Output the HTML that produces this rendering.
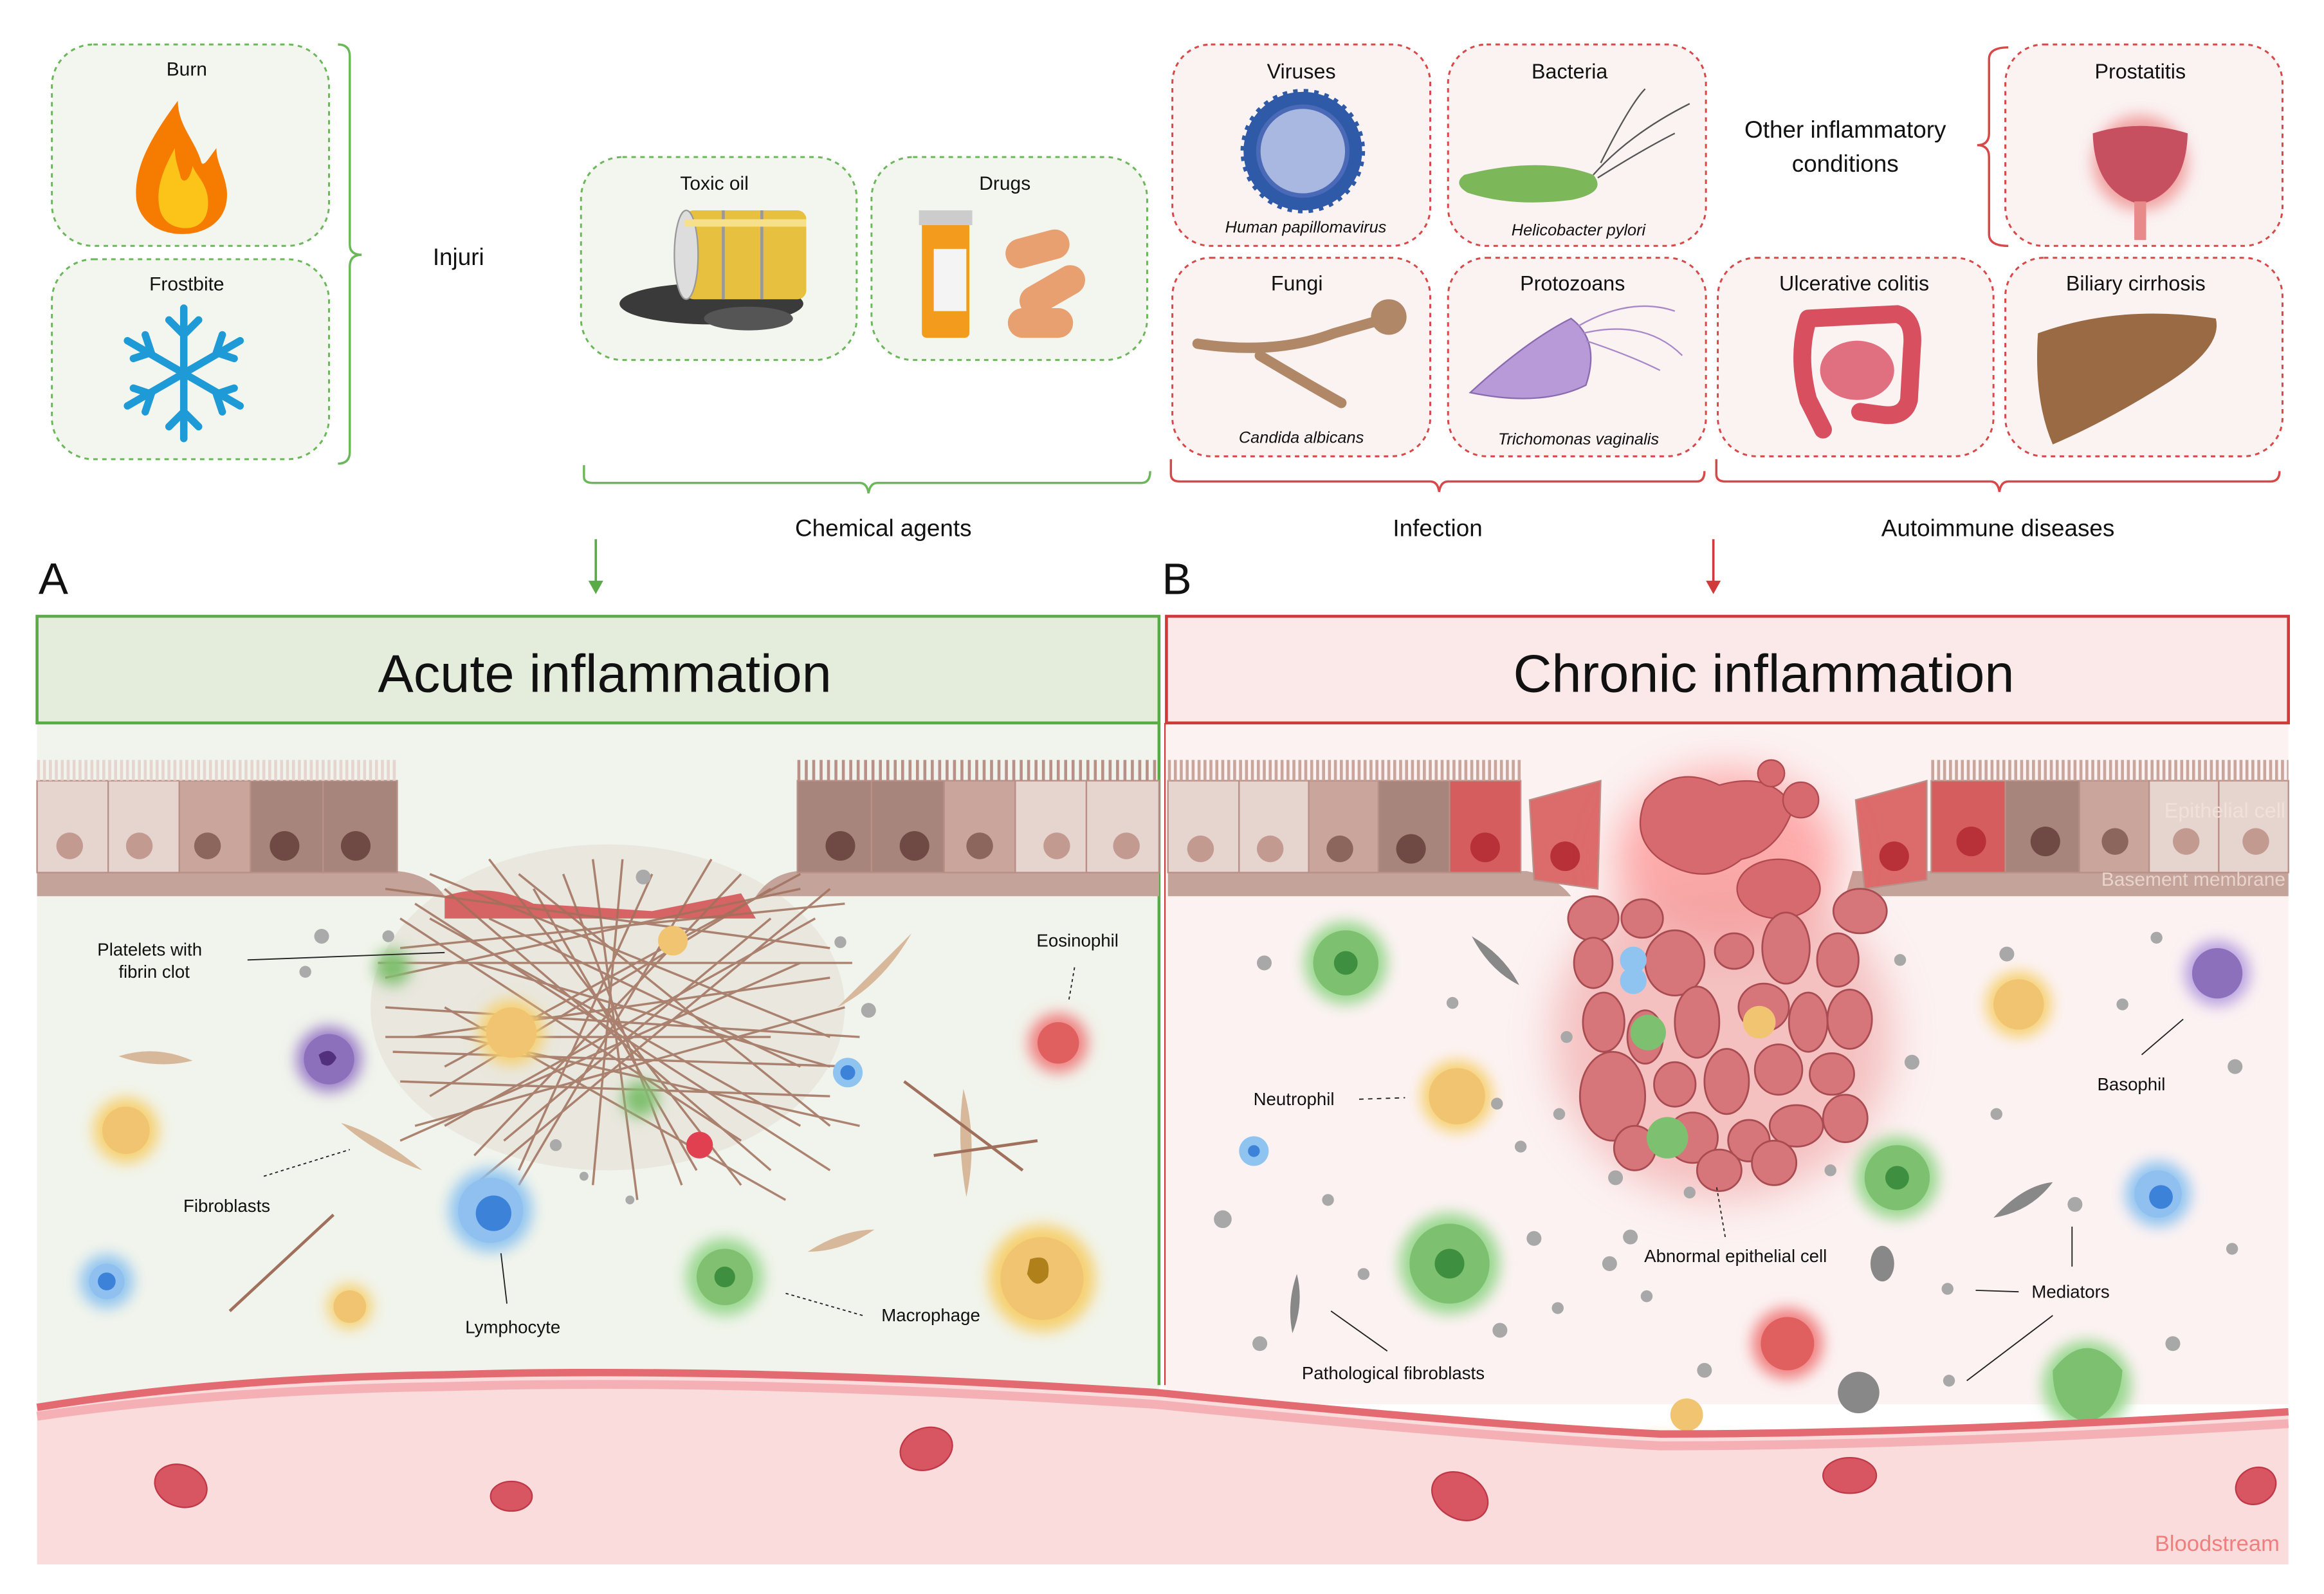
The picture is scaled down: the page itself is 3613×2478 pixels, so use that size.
<!DOCTYPE html>
<html><head><meta charset="utf-8"><style>
html,body{margin:0;padding:0;background:#fff}
svg{display:block}
text{font-family:"Liberation Sans",sans-serif;fill:#111}
</style></head><body>
<svg width="3613" height="2478" viewBox="0 0 1568 1076" preserveAspectRatio="none" xmlns="http://www.w3.org/2000/svg">
<defs>
<filter id="g" x="-50%" y="-50%" width="200%" height="200%"><feGaussianBlur stdDeviation="5"/></filter>
<filter id="g2" x="-50%" y="-50%" width="200%" height="200%"><feGaussianBlur stdDeviation="14"/></filter>
</defs>
<rect width="1568" height="1076" fill="#fff"/>

<g fill="#f3f6ef" stroke="#6bb85a" stroke-width="1.3" stroke-dasharray="3,3">
<rect x="35" y="30" width="187" height="136" rx="28"/>
<rect x="35" y="175" width="187" height="135" rx="28"/>
<rect x="392" y="106" width="186" height="137" rx="28"/>
<rect x="588" y="106" width="186" height="137" rx="28"/>
</g>
<g font-size="13" text-anchor="middle">
<text x="126" y="51">Burn</text><text x="126" y="196">Frostbite</text>
<text x="482" y="128">Toxic oil</text><text x="678" y="128">Drugs</text>
</g>
<path d="M120 68 C100 95 90 115 92 135 C95 152 110 158 123 158 C140 158 155 148 153 128 C151 115 146 110 146 100 C140 108 138 112 136 110 C132 95 120 85 120 68Z" fill="#f57c00"/>
<path d="M118 100 C108 118 105 130 108 142 C111 152 120 154 125 154 C136 154 142 146 140 132 C138 122 132 118 130 112 C128 122 124 124 122 120 C120 112 118 108 118 100Z" fill="#fcc419"/>
<g stroke="#1e9bd7" stroke-width="5" fill="none" stroke-linecap="round">
<line x1="124" y1="208" x2="124" y2="296"/><line x1="86" y1="230" x2="162" y2="274"/><line x1="86" y1="274" x2="162" y2="230"/>
<path d="M114 216 L124 226 L134 216 M114 288 L124 278 L134 288 M90 242 L102 238 L98 226 M158 262 L146 266 L150 278 M90 262 L102 266 L98 278 M158 242 L146 238 L150 226"/>
</g>
<ellipse cx="480" cy="205" rx="62" ry="14" fill="#3a3a3a"/><ellipse cx="505" cy="215" rx="30" ry="8" fill="#555"/>
<rect x="462" y="142" width="82" height="60" rx="6" fill="#e8c040"/>
<ellipse cx="463" cy="172" rx="8" ry="30" fill="#ddd" stroke="#999"/>
<line x1="488" y1="142" x2="488" y2="202" stroke="#999" stroke-width="2"/><line x1="514" y1="142" x2="514" y2="202" stroke="#999" stroke-width="2"/>
<rect x="462" y="148" width="82" height="5" fill="#f6e08a"/>
<rect x="622" y="148" width="32" height="80" rx="3" fill="#f39b1c"/><rect x="620" y="142" width="36" height="10" fill="#ccc"/><rect x="630" y="168" width="22" height="42" fill="#f4f4f4"/>
<rect x="678" y="158" width="44" height="20" rx="10" fill="#e8a070" transform="rotate(-15 700 168)"/>
<rect x="686" y="186" width="48" height="20" rx="10" fill="#e8a070" transform="rotate(-30 710 196)"/>
<rect x="680" y="208" width="44" height="20" rx="10" fill="#e8a070"/>
<path d="M228 30 Q236 30 236 38 L236 165 Q236 172 244 172 Q236 172 236 180 L236 305 Q236 313 228 313" fill="none" stroke="#6bb85a" stroke-width="1.5"/>
<text x="292" y="179" font-size="16">Injuri</text>
<path d="M394 314 L394 322 Q394 326 400 326 L580 326 Q585 326 586 333 Q587 326 592 326 L770 326 Q776 326 776 318" fill="none" stroke="#6bb85a" stroke-width="1.5"/>
<path d="M790 310 L790 320 Q790 325 796 325 L965 325 Q970 325 971 332 Q972 325 977 325 L1145 325 Q1150 325 1150 318" fill="none" stroke="#d84848" stroke-width="1.5"/>
<path d="M1158 310 L1158 320 Q1158 325 1164 325 L1343 325 Q1348 325 1349 332 Q1350 325 1355 325 L1532 325 Q1538 325 1538 318" fill="none" stroke="#d84848" stroke-width="1.5"/>
<g font-size="16" text-anchor="middle"><text x="596" y="362">Chemical agents</text><text x="970" y="362">Infection</text><text x="1348" y="362">Autoimmune diseases</text>
<text x="1245" y="93">Other inflammatory</text><text x="1245" y="116">conditions</text></g>
<path d="M1355 32 Q1342 32 1342 40 L1342 90 Q1342 98 1334 98 Q1342 98 1342 106 L1342 158 Q1342 166 1355 166" fill="none" stroke="#d84848" stroke-width="1.5"/>

<g fill="#fbf2f2" stroke="#d84848" stroke-width="1.3" stroke-dasharray="3,3">
<rect x="791" y="30" width="174" height="136" rx="26"/><rect x="977" y="30" width="174" height="136" rx="26"/>
<rect x="791" y="174" width="174" height="134" rx="26"/><rect x="977" y="174" width="174" height="134" rx="26"/>
<rect x="1159" y="174" width="186" height="134" rx="26"/><rect x="1353" y="174" width="187" height="134" rx="26"/>
<rect x="1353" y="30" width="187" height="136" rx="26"/>
</g>
<g font-size="14" text-anchor="middle">
<text x="878" y="53">Viruses</text><text x="1059" y="53">Bacteria</text><text x="875" y="196">Fungi</text><text x="1061" y="196">Protozoans</text>
<text x="1251" y="196">Ulcerative colitis</text><text x="1441" y="196">Biliary cirrhosis</text><text x="1444" y="53">Prostatitis</text>
</g>
<g font-size="11" text-anchor="middle" font-style="italic">
<text x="881" y="157">Human papillomavirus</text><text x="1065" y="159">Helicobacter pylori</text>
<text x="878" y="299">Candida albicans</text><text x="1065" y="300">Trichomonas vaginalis</text></g>
<circle cx="879" cy="102" r="40" fill="#2f5aa8" stroke="#2f5aa8" stroke-width="4" stroke-dasharray="3,4"/><circle cx="879" cy="102" r="30" fill="#a8b8e0" stroke="#4a6ab8" stroke-width="3"/>
<path d="M988 118 Q1040 105 1075 118 Q1085 130 1060 135 Q1020 140 990 130 Q980 124 988 118Z" fill="#7cb85a"/>
<path d="M1075 118 Q1100 90 1140 70 M1078 120 Q1110 100 1130 90 M1080 110 Q1100 70 1110 60" stroke="#555" fill="none"/>
<path d="M808 232 Q860 240 900 225 L935 215 M850 240 Q880 258 905 272" stroke="#b08868" stroke-width="7" fill="none" stroke-linecap="round"/>
<circle cx="937" cy="214" r="12" fill="#b08868"/>
<path d="M992 265 Q1030 230 1060 215 Q1080 230 1070 260 Q1040 275 992 265Z" fill="#b89ad8" stroke="#8a6ab0"/>
<path d="M1065 220 Q1100 200 1130 210 M1068 225 Q1110 215 1135 240 M1070 230 Q1100 240 1120 250" stroke="#a888c8" fill="none"/>
<path d="M1220 215 L1280 212 Q1292 215 1290 235 L1288 270 Q1285 282 1270 280 L1255 278 M1220 215 Q1212 240 1220 270 L1230 290" stroke="#d85060" stroke-width="12" fill="none" stroke-linecap="round"/>
<ellipse cx="1253" cy="250" rx="25" ry="20" fill="#e07080"/>
<path d="M1375 225 Q1430 205 1495 215 Q1500 235 1460 260 Q1420 285 1385 300 Q1372 270 1375 225Z" fill="#9a6a45"/>
<circle cx="1444" cy="110" r="32" fill="#f1a0a0" filter="url(#g)"/>
<path d="M1412 90 Q1444 80 1476 90 Q1475 130 1444 138 Q1413 130 1412 90Z" fill="#c65060"/>
<rect x="1440" y="136" width="8" height="26" fill="#e88a8a"/>

<text x="26" y="401" font-size="30">A</text><text x="784" y="401" font-size="30">B</text>
<line x1="402" y1="364" x2="402" y2="394" stroke="#5aaa46" stroke-width="1.6"/><path d="M397 392 L407 392 L402 401Z" fill="#5aaa46"/>
<line x1="1156" y1="364" x2="1156" y2="394" stroke="#d03a3a" stroke-width="1.6"/><path d="M1151 392 L1161 392 L1156 401Z" fill="#d03a3a"/>

<rect x="25" y="488" width="757" height="460" fill="#f1f4ec"/>
<rect x="787" y="488" width="757" height="460" fill="#fcf2f2"/>
<rect x="25" y="416" width="757" height="72" fill="#e4ecdc" stroke="#5aaa46" stroke-width="2"/>
<rect x="787" y="416" width="757" height="72" fill="#fbe9e9" stroke="#d03a3a" stroke-width="2"/>
<line x1="782" y1="488" x2="782" y2="935" stroke="#5aaa46" stroke-width="2"/>
<line x1="786" y1="488" x2="786" y2="935" stroke="#d03a3a" stroke-width="1"/>
<text x="408" y="467" font-size="36" text-anchor="middle">Acute inflammation</text>
<text x="1190" y="467" font-size="36" text-anchor="middle">Chronic inflammation</text>

<path d="M25 588 L268 588 Q290 590 300 605 L25 605Z" fill="#c4a39a"/>
<path d="M538 588 L782 588 L782 605 L510 605 Q520 590 538 588Z" fill="#c4a39a"/>
<path d="M788 588 L1030 588 Q1050 592 1060 605 L788 605Z" fill="#c4a39a"/>
<path d="M1250 588 L1544 588 L1544 605 L1245 605 Z" fill="#c4a39a"/>
<g stroke="#b89088" stroke-width="1">
<rect x="25" y="527" width="48" height="62" fill="#e6d4cf"/><rect x="73" y="527" width="48" height="62" fill="#e6d4cf"/>
<rect x="121" y="527" width="48" height="62" fill="#c9a59c"/><rect x="169" y="527" width="49" height="62" fill="#a8857c"/><rect x="218" y="527" width="50" height="62" fill="#a8857c"/>
<rect x="538" y="527" width="50" height="62" fill="#a8857c"/><rect x="588" y="527" width="49" height="62" fill="#a8857c"/>
<rect x="637" y="527" width="48" height="62" fill="#c9a59c"/><rect x="685" y="527" width="48" height="62" fill="#e6d4cf"/><rect x="733" y="527" width="49" height="62" fill="#e6d4cf"/>
<rect x="788" y="527" width="48" height="62" fill="#e6d4cf"/><rect x="836" y="527" width="47" height="62" fill="#e6d4cf"/>
<rect x="883" y="527" width="47" height="62" fill="#c9a59c"/><rect x="930" y="527" width="48" height="62" fill="#a8857c"/><rect x="978" y="527" width="48" height="62" fill="#d55d5d"/>
<path d="M1032 540 L1080 527 L1078 600 L1035 594Z" fill="#dc6b6b"/>
<path d="M1252 540 L1300 527 L1300 594 L1258 600Z" fill="#dc6b6b"/>
<rect x="1303" y="527" width="50" height="62" fill="#d55d5d"/><rect x="1353" y="527" width="50" height="62" fill="#a8857c"/>
<rect x="1403" y="527" width="47" height="62" fill="#c9a59c"/><rect x="1450" y="527" width="47" height="62" fill="#e6d4cf"/><rect x="1497" y="527" width="47" height="62" fill="#e6d4cf"/>
</g>
<g stroke-width="3">
<line x1="25" y1="520" x2="268" y2="520" stroke="#e6d4cf" stroke-width="14" stroke-dasharray="2,2"/>
<line x1="538" y1="520" x2="782" y2="520" stroke="#b89088" stroke-width="14" stroke-dasharray="2,3"/>
<line x1="788" y1="520" x2="1026" y2="520" stroke="#c9a59c" stroke-width="14" stroke-dasharray="2,2"/>
<line x1="1303" y1="520" x2="1544" y2="520" stroke="#c9a59c" stroke-width="14" stroke-dasharray="2,2"/>
</g>
<g fill="#c29a90">
<circle cx="47" cy="571" r="9"/><circle cx="94" cy="571" r="9"/><circle cx="713" cy="571" r="9"/><circle cx="760" cy="571" r="9"/>
<circle cx="810" cy="573" r="9"/><circle cx="857" cy="573" r="9"/><circle cx="1475" cy="568" r="9"/><circle cx="1522" cy="568" r="9"/></g>
<g fill="#8c655c"><circle cx="140" cy="571" r="9"/><circle cx="661" cy="571" r="9"/><circle cx="904" cy="573" r="9"/><circle cx="1427" cy="568" r="9"/></g>
<g fill="#6f4a44"><circle cx="192" cy="571" r="10"/><circle cx="240" cy="571" r="10"/><circle cx="567" cy="571" r="10"/><circle cx="617" cy="571" r="10"/><circle cx="952" cy="573" r="10"/><circle cx="1380" cy="568" r="10"/></g>
<g fill="#b83038"><circle cx="1002" cy="572" r="10"/><circle cx="1056" cy="578" r="10"/><circle cx="1278" cy="578" r="10"/><circle cx="1330" cy="568" r="10"/></g>
<text x="1542" y="552" font-size="14" text-anchor="end" style="fill:#f0e0dc">Epithelial cell</text>
<text x="1542" y="598" font-size="13" text-anchor="end" style="fill:#e8d3cd">Basement membrane</text>

<ellipse cx="410" cy="680" rx="160" ry="110" fill="#b98a78" opacity="0.12"/>
<path d="M300 605 Q330 595 360 610 L440 615 L500 603 L510 620 L300 620Z" fill="#d0383c" opacity="0.75"/>
<g stroke="#a0705c" stroke-width="1.5" opacity="0.85">
<path d="M260 600 L560 640 M270 640 L570 610 M280 700 L560 660 M290 620 L540 760 M300 760 L550 620 M330 580 L500 800 M350 800 L480 580 M260 680 L580 700 M270 730 L560 740 M300 600 L520 790 M420 580 L400 800 M380 590 L460 800 M260 660 L540 600 M280 760 L570 680 M310 700 L580 760"/>
<path d="M290 590 L560 700 M300 720 L540 590 M320 650 L560 720 M340 770 L520 620 M360 600 L470 790 M440 590 L350 790 M270 620 L500 770 M500 590 L320 780"/>
<path d="M255 650 L575 650 M265 710 L575 720 M280 610 L560 790 M320 800 L560 600 M400 580 L430 810 M300 680 L530 810 M270 770 L540 650 M350 590 L560 760 M290 740 L520 600 M330 620 L540 720 M260 700 L520 700"/>
</g>
<g>
<circle cx="222" cy="715" r="22" fill="#9a7cc8" filter="url(#g)"/><circle cx="222" cy="715" r="17" fill="#8c70bc"/><path d="M215 712 q8 -6 12 2 q-4 8 -10 4" fill="#52307e"/>
<circle cx="85" cy="763" r="22" fill="#f6d070" filter="url(#g)"/><circle cx="85" cy="763" r="16" fill="#f0c470"/>
<circle cx="345" cy="697" r="22" fill="#f6d070" filter="url(#g)"/><circle cx="345" cy="697" r="17" fill="#f0c470"/>
<circle cx="236" cy="882" r="15" fill="#f6d070" filter="url(#g)"/><circle cx="236" cy="882" r="11" fill="#f0c470"/>
<circle cx="703" cy="863" r="36" fill="#f6d070" filter="url(#g)"/><circle cx="703" cy="863" r="28" fill="#f0c470"/><path d="M695 850 q15 -5 12 12 q-8 10 -14 -2" fill="#b0801a"/>
<circle cx="331" cy="817" r="28" fill="#8fc4f0" filter="url(#g)"/><circle cx="331" cy="817" r="22" fill="#90c0f0"/><circle cx="333" cy="819" r="12" fill="#3c82d8"/>
<circle cx="72" cy="865" r="18" fill="#8fc4f0" filter="url(#g)"/><circle cx="72" cy="865" r="12" fill="#90c0f0"/><circle cx="72" cy="865" r="6" fill="#3c82d8"/>
<circle cx="572" cy="724" r="10" fill="#8fc4f0"/><circle cx="572" cy="724" r="5" fill="#3c82d8"/>
<circle cx="714" cy="704" r="20" fill="#f08080" filter="url(#g)"/><circle cx="714" cy="704" r="14" fill="#e06060"/>
<circle cx="472" cy="773" r="9" fill="#e04050"/>
<circle cx="489" cy="862" r="26" fill="#9ad890" filter="url(#g)"/><circle cx="489" cy="862" r="19" fill="#80c070"/><circle cx="489" cy="862" r="7" fill="#3e9040"/>
<circle cx="265" cy="653" r="12" fill="#80c070" filter="url(#g)"/><circle cx="432" cy="742" r="12" fill="#80c070" filter="url(#g)"/>
<circle cx="454" cy="635" r="10" fill="#f0c470"/>
</g>
<g fill="#d8b89a">
<path d="M80 713 Q105 705 130 716 Q105 722 80 713Z"/><path d="M230 758 Q255 765 285 790 Q255 780 230 758Z"/>
<path d="M565 680 Q590 655 615 630 Q595 665 565 680Z"/><path d="M545 845 Q568 830 590 830 Q568 845 545 845Z"/>
<path d="M650 735 Q660 770 652 808 Q645 770 650 735Z"/>
</g>
<g stroke="#a0705c" stroke-width="2" fill="none"><path d="M155 885 L225 820 M610 730 L690 790 M630 780 L700 770"/></g>
<g fill="#aaa"><circle cx="217" cy="632" r="5"/><circle cx="262" cy="632" r="4"/><circle cx="206" cy="656" r="4"/><circle cx="434" cy="592" r="5"/><circle cx="586" cy="682" r="5"/><circle cx="567" cy="636" r="4"/><circle cx="375" cy="773" r="4"/><circle cx="394" cy="794" r="3"/><circle cx="425" cy="810" r="3"/></g>
<g font-size="12" text-anchor="middle">
<text x="101" y="645">Platelets with</text><text x="104" y="660">fibrin clot</text>
<text x="727" y="639">Eosinophil</text><text x="153" y="818">Fibroblasts</text>
<text x="346" y="900">Lymphocyte</text><text x="628" y="892">Macrophage</text></g>
<g stroke="#222" stroke-width="0.8" fill="none">
<line x1="167" y1="648" x2="300" y2="643"/><line x1="725" y1="653" x2="721" y2="676" stroke-dasharray="2,2"/>
<line x1="178" y1="794" x2="236" y2="776" stroke-dasharray="2,2"/><line x1="342" y1="880" x2="338" y2="846"/>
<line x1="582" y1="888" x2="530" y2="873" stroke-dasharray="2,2"/></g>

<ellipse cx="1165" cy="580" rx="75" ry="60" fill="#ff7070" opacity="0.55" filter="url(#g2)"/>
<ellipse cx="1162" cy="700" rx="115" ry="110" fill="#f0a0a0" opacity="0.6" filter="url(#g2)"/>
<g fill="#d76a6e" stroke="#b04a50" stroke-width="1">
<path d="M1110 540 Q1130 515 1160 530 Q1195 520 1210 545 Q1200 575 1175 580 Q1150 600 1120 580 Q1100 565 1110 540Z"/>
<ellipse cx="1200" cy="600" rx="28" ry="20"/><circle cx="1195" cy="522" r="9"/><circle cx="1215" cy="540" r="12"/>
</g>
<g fill="#d7767a" stroke="#a84c52" stroke-width="1.2">
<ellipse cx="1075" cy="620" rx="17" ry="15"/><ellipse cx="1108" cy="620" rx="14" ry="13"/><ellipse cx="1255" cy="615" rx="18" ry="15"/>
<ellipse cx="1075" cy="650" rx="13" ry="17"/><ellipse cx="1130" cy="650" rx="20" ry="22"/><ellipse cx="1170" cy="642" rx="13" ry="12"/><ellipse cx="1205" cy="640" rx="16" ry="24"/><ellipse cx="1240" cy="648" rx="14" ry="18"/>
<ellipse cx="1082" cy="690" rx="14" ry="20"/><ellipse cx="1110" cy="700" rx="12" ry="18"/><ellipse cx="1145" cy="690" rx="15" ry="24"/><ellipse cx="1190" cy="680" rx="17" ry="16"/><ellipse cx="1220" cy="690" rx="13" ry="20"/><ellipse cx="1248" cy="688" rx="15" ry="20"/>
<ellipse cx="1088" cy="740" rx="22" ry="30"/><ellipse cx="1130" cy="732" rx="14" ry="15"/><ellipse cx="1165" cy="730" rx="15" ry="22"/><ellipse cx="1200" cy="722" rx="16" ry="17"/><ellipse cx="1236" cy="725" rx="15" ry="14"/>
<ellipse cx="1103" cy="775" rx="14" ry="15"/><ellipse cx="1142" cy="768" rx="17" ry="17"/><ellipse cx="1180" cy="770" rx="14" ry="14"/><ellipse cx="1212" cy="760" rx="18" ry="14"/><ellipse cx="1245" cy="755" rx="15" ry="16"/>
<ellipse cx="1160" cy="790" rx="15" ry="14"/><ellipse cx="1197" cy="785" rx="15" ry="15"/>
</g>
<g>
<circle cx="908" cy="650" r="28" fill="#9ad890" filter="url(#g)"/><circle cx="908" cy="650" r="22" fill="#7cc070"/><circle cx="908" cy="650" r="8" fill="#3e9040"/>
<circle cx="978" cy="853" r="34" fill="#9ad890" filter="url(#g)"/><circle cx="978" cy="853" r="27" fill="#7cc070"/><circle cx="978" cy="853" r="10" fill="#3e9040"/>
<circle cx="1280" cy="795" r="28" fill="#9ad890" filter="url(#g)"/><circle cx="1280" cy="795" r="22" fill="#7cc070"/><circle cx="1280" cy="795" r="8" fill="#3e9040"/>
<circle cx="1112" cy="697" r="12" fill="#7cc070"/><circle cx="1125" cy="768" r="14" fill="#7cc070"/>
<circle cx="880" cy="1010" r="24" fill="#9ad890" filter="url(#g)"/><circle cx="880" cy="1010" r="16" fill="#7cc070"/>
<circle cx="983" cy="740" r="24" fill="#f6d070" filter="url(#g)"/><circle cx="983" cy="740" r="19" fill="#f0c470"/>
<circle cx="1362" cy="678" r="22" fill="#f6d070" filter="url(#g)"/><circle cx="1362" cy="678" r="17" fill="#f0c470"/>
<circle cx="1187" cy="690" r="11" fill="#f0c470"/>
<circle cx="1496" cy="657" r="22" fill="#b8a0e0" filter="url(#g)"/><circle cx="1496" cy="657" r="17" fill="#8c70bc"/>
<circle cx="1456" cy="806" r="22" fill="#8fc4f0" filter="url(#g)"/><circle cx="1456" cy="806" r="16" fill="#90c0f0"/><circle cx="1458" cy="808" r="8" fill="#3c82d8"/>
<circle cx="846" cy="777" r="10" fill="#8fc4f0"/><circle cx="846" cy="777" r="4" fill="#3c82d8"/>
<circle cx="1102" cy="648" r="9" fill="#8fc4f0"/><circle cx="1102" cy="662" r="9" fill="#8fc4f0"/>
<circle cx="1206" cy="907" r="24" fill="#f08080" filter="url(#g)"/><circle cx="1206" cy="907" r="18" fill="#e06060"/>
<circle cx="1120" cy="1000" r="30" fill="#f6d070" filter="url(#g)"/><circle cx="1120" cy="1000" r="22" fill="#f0c470"/><circle cx="1138" cy="955" r="11" fill="#f0c470"/>
<circle cx="1408" cy="935" r="30" fill="#9ad890" filter="url(#g)"/><path d="M1385 925 Q1408 895 1432 925 Q1430 955 1408 960 Q1385 955 1385 925Z" fill="#7cc070"/><ellipse cx="1408" cy="985" rx="10" ry="12" fill="#7cc070"/>
<circle cx="1254" cy="940" r="14" fill="#888"/><ellipse cx="1270" cy="853" rx="8" ry="12" fill="#888"/>
</g>
<g fill="#888"><path d="M993 632 Q1015 645 1025 665 Q1005 655 993 632Z"/><path d="M1345 822 Q1365 800 1385 798 Q1370 818 1345 822Z"/><path d="M875 860 Q880 880 872 900 Q868 880 875 860Z"/></g>
<g fill="#a8a8a8"><circle cx="853" cy="650" r="5"/><circle cx="980" cy="677" r="4"/><circle cx="1057" cy="700" r="4"/><circle cx="1052" cy="752" r="4"/><circle cx="1026" cy="774" r="4"/><circle cx="1090" cy="795" r="5"/><circle cx="1140" cy="805" r="4"/><circle cx="1100" cy="835" r="5"/><circle cx="1035" cy="836" r="5"/><circle cx="825" cy="823" r="6"/><circle cx="896" cy="810" r="4"/><circle cx="920" cy="860" r="4"/><circle cx="850" cy="907" r="5"/><circle cx="1012" cy="898" r="5"/><circle cx="1086" cy="853" r="5"/><circle cx="1111" cy="875" r="4"/><circle cx="1150" cy="925" r="5"/><circle cx="1235" cy="790" r="4"/><circle cx="1290" cy="717" r="5"/><circle cx="1282" cy="648" r="4"/><circle cx="1354" cy="644" r="5"/><circle cx="1347" cy="752" r="4"/><circle cx="1400" cy="813" r="5"/><circle cx="1432" cy="678" r="4"/><circle cx="1455" cy="633" r="4"/><circle cx="1508" cy="720" r="5"/><circle cx="1506" cy="843" r="4"/><circle cx="1466" cy="907" r="5"/><circle cx="1314" cy="870" r="4"/><circle cx="1315" cy="932" r="4"/><circle cx="1051" cy="883" r="4"/><circle cx="1010" cy="745" r="4"/></g>
<g font-size="12" text-anchor="middle">
<text x="873" y="746">Neutrophil</text><text x="1438" y="736">Basophil</text><text x="1171" y="852">Abnormal epithelial cell</text>
<text x="1397" y="876">Mediators</text><text x="940" y="931">Pathological fibroblasts</text></g>
<g stroke="#222" stroke-width="0.8" fill="none">
<line x1="917" y1="742" x2="948" y2="741" stroke-dasharray="3,3"/><line x1="1445" y1="712" x2="1473" y2="688"/>
<line x1="1164" y1="835" x2="1158" y2="800" stroke-dasharray="2,2"/><line x1="1398" y1="855" x2="1398" y2="828"/>
<line x1="1362" y1="872" x2="1333" y2="871"/><line x1="1385" y1="888" x2="1327" y2="932"/><line x1="936" y1="912" x2="898" y2="885"/></g>

<path d="M25 950 Q150 930 300 928 Q500 922 780 940 Q1000 962 1120 968 Q1300 968 1544 953 L1544 1056 L25 1056Z" fill="#fadcdc"/>
<path d="M25 950 Q150 930 300 928 Q500 922 780 940 Q1000 962 1120 968 Q1300 968 1544 953" fill="none" stroke="#e46a72" stroke-width="5"/>
<path d="M25 956 Q150 938 300 936 Q500 930 780 948 Q1000 970 1120 976 Q1300 976 1544 961" fill="none" stroke="#f4b0b4" stroke-width="6"/>
<g fill="#d85662" stroke="#c03848">
<ellipse cx="122" cy="1003" rx="18" ry="14" transform="rotate(20 122 1003)"/><ellipse cx="345" cy="1010" rx="14" ry="10"/>
<ellipse cx="625" cy="978" rx="18" ry="14" transform="rotate(-20 625 978)"/><ellipse cx="985" cy="1010" rx="20" ry="15" transform="rotate(30 985 1010)"/>
<ellipse cx="1248" cy="996" rx="18" ry="12"/><ellipse cx="1522" cy="1003" rx="14" ry="12" transform="rotate(-30 1522 1003)"/></g>
<text x="1538" y="1047" font-size="15" text-anchor="end" style="fill:#ef7f7f">Bloodstream</text>
</svg>
</body></html>
